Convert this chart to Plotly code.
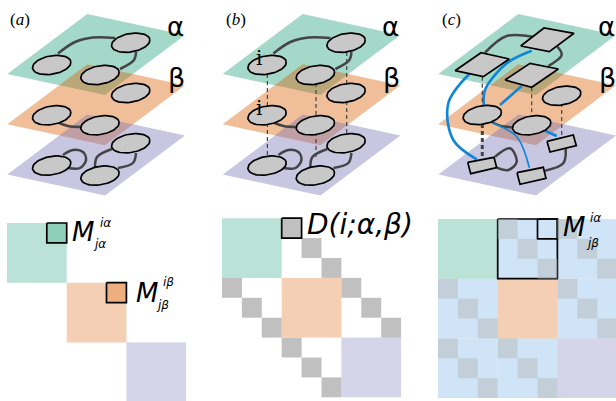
import numpy as np
import plotly.graph_objects as go

# Scene geometry, in picture units of panel (a)
LEVELS = [0, 50.3, 100.6]
PANEL_X = [0, 215.4, 431]
C_LOCAL_X = 420
PLANE = [(87.3, 14), (185, 35), (105, 95), (7.3, 74)]
PLANE_COLORS = ["rgba(27,158,119,0.4)", "rgba(217,95,2,0.4)", "rgba(117,112,179,0.4)"]
BLOCK_COLORS = ["rgba(27,158,119,0.3)", "rgba(217,95,2,0.3)", "rgba(117,112,179,0.3)"]
NODES = [(51.7, 65), (130.7, 42.7), (100, 75)]

EDGES_AB = [
    [(58, 53.5), (75, 42), (93, 37.5), (115, 38)],
    [(136, 52), (134, 60), (120, 69)],
    [(58, 122.5), (68, 126), (82, 127)],
    [(63, 155), (73, 150), (83, 152), (86, 160), (80, 168), (68, 168)],
    [(112, 149), (97, 157), (95, 168)],
    [(136, 153), (133, 163), (118, 168)],
]
DASH_B = [(52, 74, 155), (100.6, 83, 157), (131.3, 52, 133)]
I_LABELS = [(44, 58), (44, 108)]

# Panel (c), local picture units
SQUARES = [
    [(35, 70.7), (61, 52.7), (89.3, 59), (63.3, 76.7)],
    [(100.7, 46), (124, 28), (154, 33.3), (129.3, 51.7)],
    [(85, 80), (110, 63.3), (138.3, 69), (111.7, 87.3)],
]
RECTS = [
    [(47.7, 162.3), (74, 157.3), (76.7, 167.7), (50.7, 173.7)],
    [(97, 172.7), (123.3, 167.3), (126, 178.3), (100, 184.3)],
    [(127, 141.3), (153.3, 135), (156.3, 145.7), (130, 152)],
]
C_NODES = [(62.3, 115), (141.7, 95.7), (111.7, 125.3)]
C_GRAY = [
    [(65, 52.7), (86.7, 36), (115, 37.3)],
    [(137.3, 46.7), (141.7, 55), (128.3, 66)],
    [(71.7, 121.7), (80, 125.7), (93.3, 127.3)],
    [(75, 156.7), (90, 148.3), (96.7, 161.7), (88.3, 170), (76.7, 167.7)],
    [(145.7, 148.3), (143.3, 163.3), (125, 170.7)],
]
C_THICK = [
    [(49.3, 74), (28.3, 103.3), (33.3, 140), (56.7, 159.3)],
    [(111.7, 50.7), (86.7, 63.3), (65, 90), (64, 106)],
    [(101.7, 86), (80, 105)],
    [(125, 130.7), (136.7, 136)],
]
C_THIN = [(71.7, 122.7), (96.7, 136.7), (109.3, 167.7)]
C_DASH = [(62.3, 76.7, 106, 1.2), (62.3, 124, 157, 3), (111.7, 87.3, 117, 1.2), (141.7, 103, 135, 1.2)]

# Block matrices: origin, and marked cells as (row, column)
MATRIX_ORIGIN = [(7, 223), (222, 218.2), (438, 219)]
CELL = 19.9
GRAY_B = [(1, 4), (2, 5), (3, 0), (4, 1), (5, 2), (3, 6), (4, 7), (5, 8), (6, 3), (7, 4), (8, 5), (0, 3)]
GRAY_C = GRAY_B + [(0, 6), (1, 7), (2, 8), (6, 0), (7, 1), (8, 2)]
OFF_BLOCKS = [(0, 1), (0, 2), (1, 0), (1, 2), (2, 0), (2, 1)]

traces = []


def poly(pts, fill, line="rgba(0,0,0,0)", width=0):
    xs = [p[0] for p in pts] + [pts[0][0]]
    ys = [p[1] for p in pts] + [pts[0][1]]
    traces.append(go.Scatter(x=xs, y=ys, mode="lines", fill="toself", fillcolor=fill,
                             line=dict(color=line, width=width), hoverinfo="skip"))


def curve(pts, color="#444444", width=2.5):
    traces.append(go.Scatter(x=[p[0] for p in pts], y=[p[1] for p in pts], mode="lines",
                             line=dict(color=color, width=width, shape="spline", smoothing=1),
                             hoverinfo="skip"))


def dash(x, y0, y1, width=1.2):
    traces.append(go.Scatter(x=[x, x], y=[y0, y1], mode="lines",
                             line=dict(color="#444444", width=width, dash="4px,3px"), hoverinfo="skip"))


def ellipse(cx, cy, a=19.4, b=9.2, deg=-10):
    t = np.linspace(0, 2 * np.pi, 60)
    r = np.radians(deg)
    x = cx + a * np.cos(t) * np.cos(r) - b * np.sin(t) * np.sin(r)
    y = cy + a * np.cos(t) * np.sin(r) + b * np.sin(t) * np.cos(r)
    traces.append(go.Scatter(x=x, y=y, mode="lines", fill="toself", fillcolor="#c8c8c8",
                             line=dict(color="black", width=1.7), hoverinfo="skip"))


def shift(pts, dx, dy=0):
    return [(x + dx, y + dy) for x, y in pts]


def planes(dx):
    for lv, col in zip(LEVELS, PLANE_COLORS):
        poly(shift(PLANE, dx, lv), col)


# Panels (a) and (b)
for k in (0, 1):
    dx = PANEL_X[k]
    planes(dx)
    for e in EDGES_AB:
        curve(shift(e, dx))
    if k == 1:
        for x, y0, y1 in DASH_B:
            dash(x + dx, y0, y1)
    for lv in LEVELS:
        for nx, ny in NODES:
            ellipse(nx + dx, ny + lv)

# Panel (c)
planes(PANEL_X[2])
dx = C_LOCAL_X
for e in C_GRAY:
    curve(shift(e, dx))
for e in C_THICK:
    curve(shift(e, dx), "#0f86d9", 2.6)
curve(shift(C_THIN, dx), "#0f86d9", 1.7)
for x, y0, y1, w in C_DASH:
    dash(x + dx, y0, y1, w)
for nx, ny in C_NODES:
    ellipse(nx + dx, ny)
for s in SQUARES + RECTS:
    poly(shift(s, dx), "#c8c8c8", "black", 1.7)


def cell_box(origin, r, c, n=1):
    ox, oy = origin
    return [(ox + c * CELL, oy + r * CELL), (ox + (c + n) * CELL, oy + r * CELL),
            (ox + (c + n) * CELL, oy + (r + n) * CELL), (ox + c * CELL, oy + (r + n) * CELL)]


# Matrices
for m, origin in enumerate(MATRIX_ORIGIN):
    if m == 2:
        for r, c in OFF_BLOCKS:
            poly(cell_box(origin, r * 3, c * 3, 3), "#d0e4f7")
    for i, col in enumerate(BLOCK_COLORS):
        poly(cell_box(origin, i * 3, i * 3, 3), col)

# (a) highlighted entries
poly(cell_box(MATRIX_ORIGIN[0], 0, 2), "#8dcfb9", "black", 1.7)
poly(cell_box(MATRIX_ORIGIN[0], 3, 5), "#edae80", "black", 1.7)
# (b) gray entries
for r, c in GRAY_B:
    poly(cell_box(MATRIX_ORIGIN[1], r, c), "#c0c0c0")
poly(cell_box(MATRIX_ORIGIN[1], 0, 3), "rgba(0,0,0,0)", "black", 1.7)
# (c) gray entries
poly(cell_box(MATRIX_ORIGIN[2], 0, 3, 3), "rgba(0,0,0,0)", "black", 1.7)
poly(cell_box(MATRIX_ORIGIN[2], 0, 5), "rgba(0,0,0,0)", "black", 1.7)
for r, c in GRAY_C:
    poly(cell_box(MATRIX_ORIGIN[2], r, c), "rgba(180,185,185,0.5)")

fig = go.Figure(traces)


def label(x, y, text, size, family="DejaVu Sans", italic=False, color="black"):
    fig.add_annotation(x=x, y=y, text=f"<i>{text}</i>" if italic else text, showarrow=False,
                       xanchor="center", yanchor="middle",
                       font=dict(size=size, family=family, color=color))


# Panel letters: upright brackets, italic letter
for x, s in zip((19.7, 236.3, 451.7), "abc"):
    label(x, 19, f"(<i>{s}</i>)", 17, "Liberation Serif")
for dx_ in (0, 215.4, 431):
    label(dx_ + 175, 27, "α", 26)
    label(dx_ + 176, 77, "β", 27)
for x, y in I_LABELS:
    label(x + PANEL_X[1], y, "i", 20, "DejaVu Serif")

label(83, 232, "M", 26, italic=True)
label(105, 223, "iα", 12, italic=True)
label(99, 244, "jα", 12, italic=True)
label(147, 293, "M", 26, italic=True)
label(168.5, 282, "iβ", 12, italic=True)
label(162, 305, "jβ", 12, italic=True)
label(360, 224, "D(i;α,β)", 28, italic=True)
label(574, 227, "M", 26, italic=True)
label(595, 218, "iα", 12, italic=True)
label(592, 243, "jβ", 12, italic=True)

fig.update_layout(
    width=616, height=401, margin=dict(l=0, r=0, t=0, b=0), showlegend=False,
    plot_bgcolor="white", paper_bgcolor="white",
    xaxis=dict(range=[0, 616], visible=False, fixedrange=True),
    yaxis=dict(range=[401, 0], visible=False, fixedrange=True),
)
fig.write_html("out.html", config=dict(displayModeBar=False),
               post_script="document.body.style.margin='0';document.body.style.overflow='hidden';")
